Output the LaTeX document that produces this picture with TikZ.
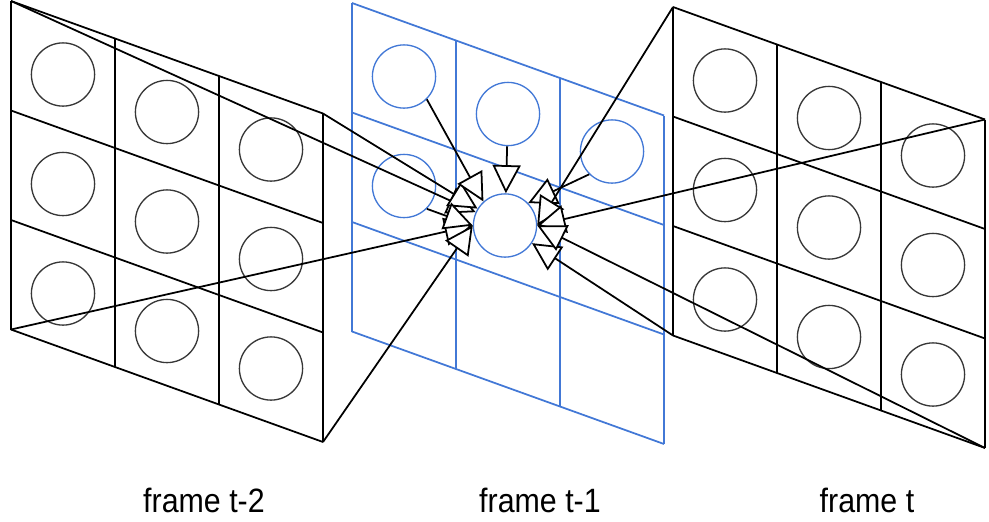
\documentclass[tikz,border=0pt]{standalone}
\usepackage{fontspec}
\setmainfont{Liberation Sans}
\usetikzlibrary{arrows.meta}
\definecolor{FrameBlue}{RGB}{66,120,214}
\definecolor{RingGray}{RGB}{55,55,55}

\tikzset{
  ring/.style={circle, draw=RingGray, line width=0.95pt, minimum size=1.58cm, inner sep=0pt},
  grid/.style={line width=1.25pt},
  link/.style={line width=1.25pt, -{Triangle[fill=white, length=20pt, width=20pt]}},
  caption/.style={font=\fontsize{24}{28}\selectfont, xscale=0.9, anchor=base}
}

\begin{document}
\begin{tikzpicture}[x=0.025cm, y=-0.025cm]
\def\cx{104}
\def\cy{37.5}
\def\rh{109.5}
\useasboundingbox (0,0) rectangle (989,521);

% Frames: name/origin x/origin y/colour
\foreach \fr/\ox/\oy/\clr in {l/11/1/black, m/352/3/FrameBlue, r/673/7/black}{
  \foreach \i in {0,...,3}{
    \draw[grid, \clr] ({\ox+\i*\cx},{\oy+\i*\cy}) -- ++(0,{3*\rh});
    \draw[grid, \clr] (\ox,{\oy+\i*\rh}) -- ++({3*\cx},{3*\cy});
  }
  \coordinate (\fr-nw) at (\ox,\oy);
  \coordinate (\fr-ne) at ({\ox+3*\cx},{\oy+3*\cy});
  \coordinate (\fr-sw) at (\ox,{\oy+3*\rh});
  \coordinate (\fr-se) at ({\ox+3*\cx},{\oy+3*\cy+3*\rh});
}

% Cells of the outer frames
\foreach \fr/\ox/\oy in {l/11/1, r/673/7}{
  \foreach \i in {0,1,2}{
    \foreach \j in {0,1,2}{
      \node[ring] (\fr-\i-\j) at ({\ox+(\i+0.5)*\cx},{\oy+(\i+0.5)*\cy+(\j+0.5)*\rh}) {};
    }
  }
}

% Cells of the middle frame
\foreach \i/\j in {0/0, 1/0, 2/0, 0/1}{
  \node[ring, draw=FrameBlue] (m-\i-\j) at ({352+(\i+0.5)*\cx},{3+(\i+0.5)*\cy+(\j+0.5)*\rh}) {};
}
\node[ring, draw=FrameBlue] (ctr) at ({349+1.5*\cx},{5+1.5*\cy+1.5*\rh}) {};

% Links into the centre cell
\draw[link] (l-nw) -- (ctr);
\draw[link] (l-ne) -- (ctr);
\draw[link] (l-sw) -- (ctr.west);
\draw[link] (l-se) -- (ctr.west);
\draw[link] (m-0-0.315) -- (ctr.132);
\draw[link] (m-0-1.315) -- (ctr.west);
\draw[link] (m-1-0) -- (ctr);
\draw[link] (m-2-0.225) -- (ctr.44);
\draw[link] (r-nw) -- (ctr.east);
\draw[link] (r-ne) -- (ctr.east);
\draw[link] (r-sw) -- (ctr);
\draw[link] (r-se) -- (ctr.east);

% Captions
\node[caption] (cap-l) at (204,512) {frame t-2};
\node[caption] (cap-m) at (540,512) {frame t-1};
\node[caption] (cap-r) at (867,512) {frame t};

\end{tikzpicture}
\end{document}
